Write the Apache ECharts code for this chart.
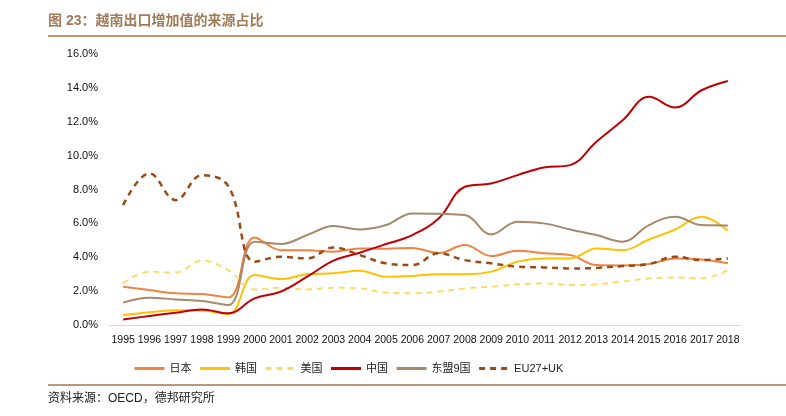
<!DOCTYPE html>
<html><head><meta charset="utf-8">
<script src="https://cdn.jsdelivr.net/npm/echarts@6/dist/echarts.min.js"></script>
<style>html,body{margin:0;padding:0;background:#fff}#c{width:786px;height:416px}</style>
</head><body><div id="c"></div>
<script>
const years = ['1995','1996','1997','1998','1999','2000','2001','2002','2003','2004','2005','2006','2007','2008','2009','2010','2011','2012','2013','2014','2015','2016','2017','2018'];
const japan = [2.26,2.06,1.87,1.83,1.63,5.17,4.42,4.42,4.33,4.52,4.5,4.55,4.25,4.72,4.07,4.38,4.23,4.13,3.54,3.52,3.6,3.93,3.87,3.64];
const korea = [0.59,0.75,0.87,0.85,0.65,2.95,2.71,2.99,3.05,3.2,2.85,2.89,3.0,3.0,3.15,3.74,3.93,3.93,4.52,4.42,5.05,5.64,6.39,5.57];
const usa = [2.46,3.15,3.1,3.8,3.24,2.1,2.2,2.1,2.2,2.16,1.91,1.87,1.97,2.16,2.26,2.4,2.46,2.36,2.4,2.56,2.75,2.8,2.75,3.24];
const china = [0.33,0.53,0.73,0.92,0.69,1.57,1.97,2.85,3.8,4.27,4.78,5.31,6.29,8.16,8.36,8.85,9.3,9.44,10.82,12.09,13.47,12.84,13.86,14.41];
const asean = [1.32,1.61,1.51,1.42,1.18,4.92,4.78,5.31,5.84,5.64,5.9,6.59,6.57,6.49,5.35,6.1,6.0,5.64,5.31,4.92,5.9,6.39,5.9,5.88];
const eu = [7.08,8.95,7.37,8.85,8.2,3.74,4.03,3.93,4.58,4.13,3.64,3.54,4.23,3.83,3.64,3.44,3.4,3.34,3.37,3.48,3.6,4.03,3.83,3.93];
const names = ['日本','韩国','美国','中国','东盟9国','EU27+UK'];

const chart = echarts.init(document.getElementById('c'));
function s(name, data, color, dashed, w){
  return {name, type:'line', data, smooth:0.4, symbol:'none',
    lineStyle:{color, width:w||2, type: dashed ? [6,5] : 'solid'}, itemStyle:{color}};
}
chart.setOption({
  animation:false,
  textStyle:{fontFamily:'Liberation Sans, Arial, sans-serif'},
  grid:{left:110,right:45,top:54,bottom:91},
  legend:{left:128,top:358,itemWidth:30,itemHeight:12,itemGap:7,
    itemStyle:{opacity:0},lineStyle:{width:3},
    textStyle:{fontSize:11,color:'#222',fontFamily:'Liberation Sans, Noto Sans CJK SC'},
    data:names},
  xAxis:{type:'category',data:years,boundaryGap:true,
    axisLine:{lineStyle:{color:'#d9d9d9',width:1}},axisTick:{show:false},
    axisLabel:{interval:0,color:'#111',fontSize:10.5,margin:10,fontFamily:'Liberation Sans, sans-serif'}},
  yAxis:{type:'value',min:0,max:16,interval:2,
    axisLine:{show:false},axisTick:{show:false},splitLine:{show:false},
    axisLabel:{color:'#111',fontSize:11,margin:12,formatter:v=>v.toFixed(1)+'%'}},
  graphic:[
    {type:'text',left:48,top:14,style:{text:'图 23：越南出口增加值的来源占比',fill:'#A27B57',fontSize:14,fontWeight:'bold',fontFamily:'Liberation Sans, Noto Sans CJK SC'}},
    {type:'rect',shape:{x:48,y:35,width:738,height:2},style:{fill:'#B8977A'}},
    {type:'rect',shape:{x:48,y:384,width:738,height:2},style:{fill:'#B8977A'}},
    {type:'text',left:48,top:393,style:{text:'资料来源：OECD，德邦研究所',fill:'#222',fontSize:12,fontFamily:'Liberation Sans, Noto Sans CJK SC'}}
  ],
  series:[
    s('日本',japan,'#EE8344',false),
    s('韩国',korea,'#FFC000',false),
    s('美国',usa,'#FFD966',true),
    s('中国',china,'#C00000',false),
    s('东盟9国',asean,'#A8896A',false),
    s('EU27+UK',eu,'#9C4A14',true,2.5)
  ]
});
</script></body></html>
